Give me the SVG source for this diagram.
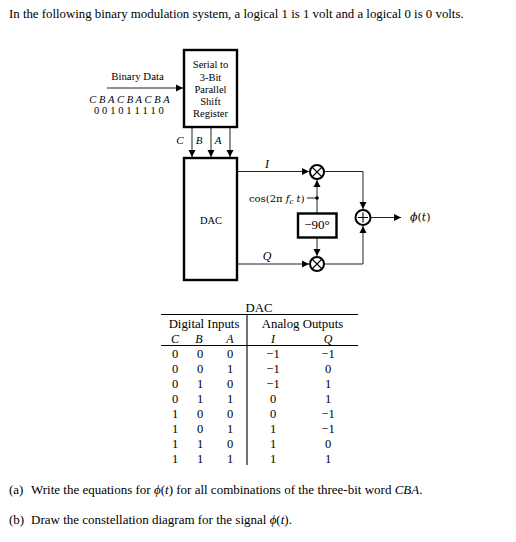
<svg xmlns="http://www.w3.org/2000/svg" width="516" height="542" viewBox="0 0 516 542">
<defs>
<marker id="arr" markerUnits="userSpaceOnUse" markerWidth="8" markerHeight="8" refX="7" refY="4" orient="auto"><path d="M0,0.5L7,4L0,7.5z" fill="#000"/></marker>
</defs>
<style>
text{font-family:"Liberation Serif",serif;fill:#000}
.t{font-size:13px}
.s{font-size:10.500px;text-anchor:middle}
.d{font-size:12.500px;text-anchor:middle}
.h{font-size:12.800px;text-anchor:middle}
.l{font-size:12px;text-anchor:middle;font-style:italic}
.i{font-style:italic}
.box{fill:#fff;stroke:#000;stroke-width:2.400}
.line{fill:none;stroke:#222;stroke-width:1}
.arrow{fill:none;stroke:#222;stroke-width:1;marker-end:url(#arr)}
.rule{stroke:#000;stroke-width:1.100;fill:none}
.circ{fill:#fff;stroke:#000;stroke-width:2}
</style>
<text class="t" x="9" y="18" style="font-size:12.830px">In the following binary modulation system, a logical 1 is 1 volt and a logical 0 is 0 volts.</text>

<g id="connectors">
<path class="arrow" d="M107,88H183"/>
<path class="arrow" d="M192,127V157"/>
<path class="arrow" d="M211,127V157"/>
<path class="arrow" d="M230,127V157"/>
<path class="arrow" d="M238,171.500H309"/>
<path class="arrow" d="M238,264H309"/>
<path class="arrow" d="M317,213V180"/>
<path class="arrow" d="M317,237V256"/>
<path class="line" d="M307,198H317"/>
<circle cx="317" cy="198" r="1.800" fill="#000"/>
<path class="arrow" d="M325,171.500H363V209"/>
<path class="arrow" d="M325,264H363V226"/>
<path class="arrow" d="M371,217.500H401"/>
</g>

<g id="input-labels">
<text class="s" x="137.500" y="80" style="font-size:10.800px">Binary Data</text>
<text class="s i" x="129.500" y="103" style="font-size:10.500px;letter-spacing:.05px">C B A C B A C B A</text>
<text class="s" x="129" y="114" style="font-size:10.500px;letter-spacing:.1px">0 0 1 0 1 1 1 1 0</text>
<text class="l" x="180" y="144" style="font-size:11px">C</text>
<text class="l" x="199" y="144" style="font-size:11px">B</text>
<text class="l" x="218" y="144" style="font-size:11px">A</text>
</g>

<g id="shift-register">
<rect class="box" x="184" y="50" width="53" height="77"/>
<text class="s" x="210.500" y="68">Serial to</text>
<text class="s" x="210.500" y="81">3-Bit</text>
<text class="s" x="210.500" y="93">Parallel</text>
<text class="s" x="210.500" y="105">Shift</text>
<text class="s" x="210.500" y="117">Register</text>
</g>

<g id="dac">
<rect class="box" x="184" y="158" width="53" height="122"/>
<text class="s" x="211" y="224">DAC</text>
</g>

<g id="signal-labels">
<text class="l" x="267" y="168">I</text>
<text class="l" x="267" y="260">Q</text>
<text x="249" y="202" style="font-size:10px;font-family:'DejaVu Serif','Liberation Serif',serif">cos(2π <tspan font-style="italic">f</tspan><tspan font-style="italic" font-size="7" dy="2">c</tspan><tspan dy="-2"> </tspan><tspan font-style="italic">t</tspan>)</text>
<text x="410" y="221" style="font-size:11px;font-family:'DejaVu Serif','Liberation Serif',serif"><tspan font-style="italic">ϕ</tspan>(<tspan font-style="italic">t</tspan>)</text>
</g>

<g id="mixer-i">
<circle class="circ" cx="317" cy="172" r="7"/>
<path class="rule" d="M312,167L322,177M322,167L312,177"/>
</g>
<g id="mixer-q">
<circle class="circ" cx="317" cy="264" r="7"/>
<path class="rule" d="M312,259L322,269M322,259L312,269"/>
</g>
<g id="phase-shift">
<rect class="box" x="298" y="213.500" width="38.500" height="24"/>
<text class="s" x="317" y="229" style="font-size:13px">−90°</text>
</g>
<g id="summer">
<circle class="circ" cx="363" cy="217.500" r="7.500"/>
<path class="rule" d="M358,217.500H368M363,212.500V222.500"/>
</g>

<g id="table">
<text class="h" x="259" y="312">DAC</text>
<path class="rule" d="M161,314.500H358M161,345.500H358M247,314V465"/>
<text class="h" x="204" y="328">Digital Inputs</text>
<text class="h" x="302.500" y="328">Analog Outputs</text>
<text class="l" x="175" y="343">C</text>
<text class="l" x="199" y="343">B</text>
<text class="l" x="230" y="343">A</text>
<text class="l" x="273" y="343">I</text>
<text class="l" x="328" y="343">Q</text>
<g class="d">
<text class="d" x="175" y="358">0</text><text class="d" x="200" y="358">0</text><text class="d" x="230" y="358">0</text><text class="d" x="273" y="358">−1</text><text class="d" x="328" y="358">−1</text>
<text class="d" x="175" y="373">0</text><text class="d" x="200" y="373">0</text><text class="d" x="230" y="373">1</text><text class="d" x="273" y="373">−1</text><text class="d" x="328" y="373">0</text>
<text class="d" x="175" y="388">0</text><text class="d" x="200" y="388">1</text><text class="d" x="230" y="388">0</text><text class="d" x="273" y="388">−1</text><text class="d" x="328" y="388">1</text>
<text class="d" x="175" y="403">0</text><text class="d" x="200" y="403">1</text><text class="d" x="230" y="403">1</text><text class="d" x="273" y="403">0</text><text class="d" x="328" y="403">1</text>
<text class="d" x="175" y="418">1</text><text class="d" x="200" y="418">0</text><text class="d" x="230" y="418">0</text><text class="d" x="273" y="418">0</text><text class="d" x="328" y="418">−1</text>
<text class="d" x="175" y="433">1</text><text class="d" x="200" y="433">0</text><text class="d" x="230" y="433">1</text><text class="d" x="273" y="433">1</text><text class="d" x="328" y="433">−1</text>
<text class="d" x="175" y="448">1</text><text class="d" x="200" y="448">1</text><text class="d" x="230" y="448">0</text><text class="d" x="273" y="448">1</text><text class="d" x="328" y="448">0</text>
<text class="d" x="175" y="463">1</text><text class="d" x="200" y="463">1</text><text class="d" x="230" y="463">1</text><text class="d" x="273" y="463">1</text><text class="d" x="328" y="463">1</text>
</g>
</g>

<text class="t" x="9" y="494">(a)<tspan x="31">Write the equations for </tspan><tspan font-style="italic">ϕ</tspan>(<tspan font-style="italic">t</tspan>) for all combinations of the three-bit word <tspan font-style="italic">CBA</tspan>.</text>
<text class="t" x="9" y="524">(b)<tspan x="31">Draw the constellation diagram for the signal </tspan><tspan font-style="italic">ϕ</tspan>(<tspan font-style="italic">t</tspan>).</text>
</svg>
